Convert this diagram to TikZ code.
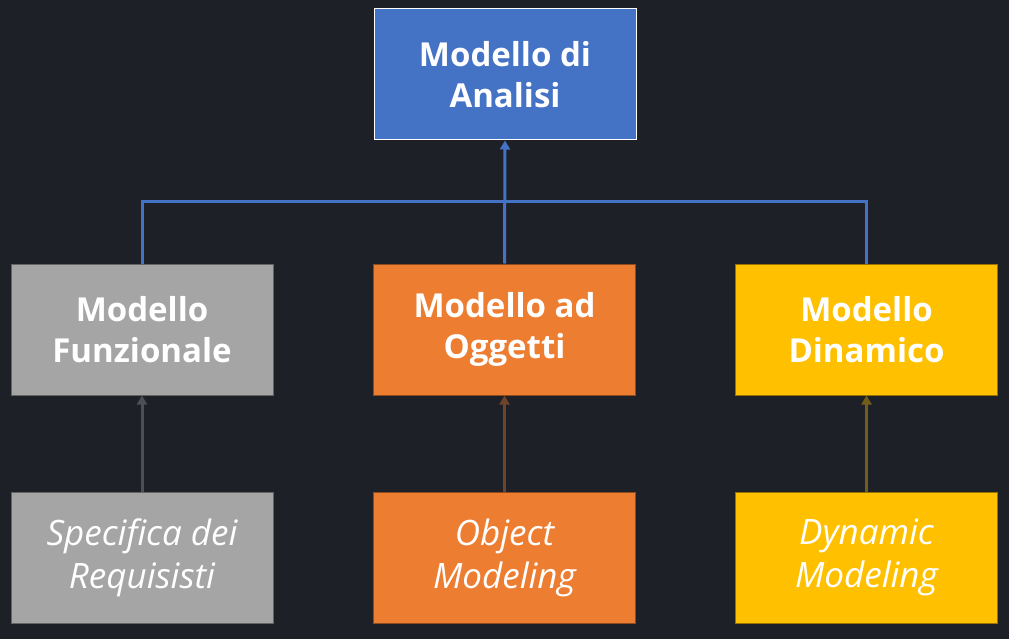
\documentclass[tikz,border=0pt]{standalone}
\usepackage{fontspec}
\setmainfont{Open Sans}
\usetikzlibrary{positioning,arrows.meta}
\definecolor{bgdark}{HTML}{1E2028}
\definecolor{mblue}{HTML}{4472C4}
\definecolor{mgray}{HTML}{A5A5A5}
\definecolor{morange}{HTML}{ED7D31}
\definecolor{myellow}{HTML}{FFC000}
\tikzset{
  modbox/.style={minimum width=262pt, minimum height=131pt, inner sep=0pt,
    align=center, text=white, line width=1pt},
  title/.style={font=\fontsize{33}{41}\selectfont\bfseries},
  source/.style={font=\fontsize{35}{43}\selectfont\itshape},
  bluelink/.style={draw=mblue, line width=3pt},
  feed/.style={line width=3pt, -{Triangle[width=10pt,length=9pt]}}
}

\begin{document}
\begin{tikzpicture}[x=1pt, y=-1pt]
  \fill[bgdark] (0,0) rectangle (1009,639);
  \useasboundingbox (0,0) rectangle (1009,639);
  %%
  \node[modbox, title, fill=mblue, draw=white] (analisi) at (505,74.5) {Modello di\\Analisi};
  %%
  \node[modbox, title, fill=mgray, draw=mgray!60!black] (funz) at (142,329.5) {Modello\\Funzionale};
  \node[modbox, title, fill=morange, draw=morange!60!black] (ogg) at (504.5,329.5) {Modello ad\\Oggetti};
  \node[modbox, title, fill=myellow, draw=myellow!60!black] (dinam) at (866.5,329.5) {Modello\\Dinamico};
  %%
  \node[modbox, source, fill=mgray, draw=mgray!60!black] (spec) at (142,557.5) {Specifica dei\\Requisisti};
  \node[modbox, source, fill=morange, draw=morange!60!black] (objmod) at (504.5,557.5) {Object\\Modeling};
  \node[modbox, source, fill=myellow, draw=myellow!60!black] (dynmod) at (866.5,557.5) {Dynamic\\Modeling};
  %%
  \coordinate (join) at (504.5,202);
  \draw[bluelink] (funz.north) |- (join) -| (dinam.north);
  \draw[bluelink, feed, color=mblue] (ogg.north) -- (analisi.south);
  %%
  \draw[feed, color=mgray!35!bgdark] (spec) -- (funz);
  \draw[feed, color=morange!38!bgdark] (objmod) -- (ogg);
  \draw[feed, color=myellow!38!bgdark] (dynmod) -- (dinam);
\end{tikzpicture}
\end{document}
